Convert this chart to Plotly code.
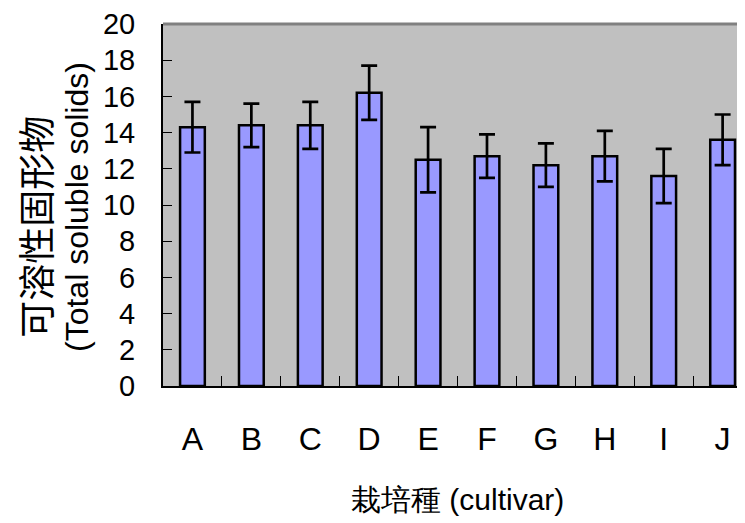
import plotly.graph_objects as go

categories = ["A", "B", "C", "D", "E", "F", "G", "H", "I", "J"]
values = [14.3, 14.4, 14.4, 16.2, 12.5, 12.7, 12.2, 12.7, 11.6, 13.6]
errors = [1.4, 1.2, 1.3, 1.5, 1.8, 1.2, 1.2, 1.4, 1.5, 1.4]
y_ticks = [0, 2, 4, 6, 8, 10, 12, 14, 16, 18, 20]

FONT = "Liberation Sans, Arial, sans-serif"
CJK = "Noto Sans CJK TC, Noto Sans CJK SC, sans-serif"

W, H = 737, 515
L, T, B = 155, 12, 137
PW = W - L
PH = H - T - B

fig = go.Figure()
fig.add_trace(go.Bar(
    x=categories, y=values, width=0.42,
    marker=dict(color="#9999FF", line=dict(color="black", width=2.5)),
    error_y=dict(type="data", array=errors, visible=True,
                 color="black", thickness=2.7, width=8),
))

fig.update_layout(
    width=W, height=H,
    margin=dict(l=L, r=0, t=T, b=B, pad=0),
    paper_bgcolor="white", plot_bgcolor="#C0C0C0",
    showlegend=False,
    font=dict(family=FONT, color="black"),
    xaxis=dict(
        range=[-0.5, 9.38], showgrid=False, zeroline=False,
        showline=True, linecolor="black", linewidth=2,
        ticks="inside", tickson="boundaries", ticklen=10,
        tickcolor="black", tickwidth=1,
        tickfont=dict(size=32, family=FONT), ticklabelstandoff=24,
    ),
    yaxis=dict(
        range=[0, 20], tickvals=y_ticks, showgrid=False, zeroline=False,
        showline=True, linecolor="black", linewidth=2,
        ticks="inside", ticklen=9, tickcolor="black", tickwidth=1,
        tickfont=dict(size=29, family=FONT), ticklabelstandoff=20,
        ticklabeloverflow="allow",
    ),
    shapes=[dict(type="line", xref="paper", yref="paper", x0=0, x1=1, y0=1, y1=1,
                 line=dict(color="#808080", width=3))],
    annotations=[
        dict(text="可溶性固形物", textangle=-90, font=dict(size=37, family=CJK),
             xref="paper", yref="paper", x=-L / PW, y=(T + PH - 217) / PH,
             xanchor="center", yanchor="middle", xshift=27, showarrow=False),
        dict(text="(Total soluble solids)", textangle=-90, font=dict(size=32, family=FONT),
             xref="paper", yref="paper", x=-L / PW, y=(T + PH - 197) / PH,
             xanchor="center", yanchor="middle", xshift=69, showarrow=False),
        dict(text="栽培種 (cultivar)",
             font=dict(size=30, family=FONT),
             xref="paper", yref="paper", x=(449.5 - L) / PW, y=(T + PH - 493) / PH,
             xanchor="center", yanchor="middle", showarrow=False),
    ],
)

fig.write_html("out.html")
